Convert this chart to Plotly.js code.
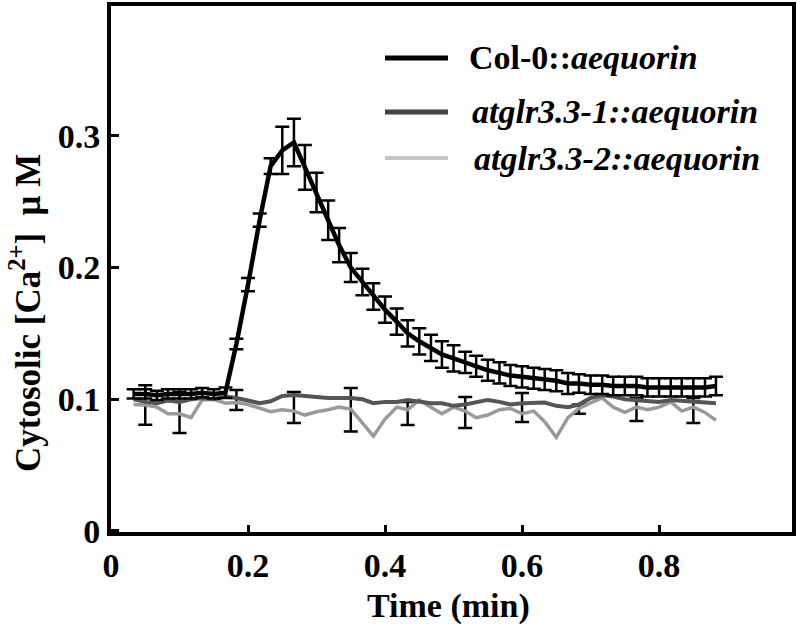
<!DOCTYPE html>
<html>
<head>
<meta charset="utf-8">
<script src="https://cdn.plot.ly/plotly-3.0.1.min.js"></script>
<style>html,body{margin:0;padding:0;background:#fff;}#chart{width:797px;height:635px;}</style>
</head>
<body>
<div id="chart"></div>
<script>
// time (min), sampled every second
const time = [0.033,0.050,0.067,0.083,0.100,0.117,0.133,0.150,0.167,0.183,0.200,0.217,0.233,0.250,0.267,0.283,0.300,0.317,0.333,0.350,0.367,0.383,0.400,0.417,0.433,0.450,0.467,0.483,0.500,0.517,0.533,0.550,0.567,0.583,0.600,0.617,0.633,0.650,0.667,0.683,0.700,0.717,0.733,0.750,0.767,0.783,0.800,0.817,0.833,0.850,0.867,0.883];

const col0 = [0.104,0.104,0.103,0.104,0.104,0.104,0.105,0.104,0.105,0.142,0.187,0.236,0.277,0.289,0.295,0.276,0.257,0.236,0.217,0.200,0.189,0.178,0.168,0.159,0.150,0.144,0.139,0.134,0.131,0.128,0.125,0.122,0.120,0.118,0.117,0.116,0.115,0.114,0.112,0.112,0.111,0.111,0.110,0.110,0.110,0.109,0.109,0.109,0.109,0.109,0.109,0.110];
const col0Err = [0.0035,0.0035,0.0035,0.0035,0.0035,0.0035,0.0035,0.0035,0.004,0.004,0.005,0.005,0.006,0.018,0.018,0.017,0.015,0.015,0.013,0.011,0.010,0.010,0.010,0.010,0.010,0.010,0.010,0.010,0.010,0.008,0.008,0.008,0.008,0.008,0.008,0.008,0.008,0.008,0.008,0.007,0.007,0.007,0.007,0.007,0.007,0.007,0.007,0.007,0.007,0.007,0.007,0.007];

const glr1 = [0.100,0.098,0.097,0.099,0.098,0.100,0.101,0.100,0.102,0.101,0.099,0.097,0.0985,0.1025,0.1033,0.1025,0.102,0.101,0.101,0.101,0.100,0.097,0.098,0.098,0.0995,0.098,0.097,0.097,0.095,0.096,0.098,0.0995,0.098,0.096,0.097,0.097,0.0975,0.095,0.094,0.096,0.101,0.103,0.102,0.100,0.0995,0.099,0.098,0.0995,0.099,0.098,0.0975,0.097];

const glr2 = [0.096,0.0957,0.094,0.089,0.089,0.086,0.0995,0.100,0.097,0.0975,0.096,0.0935,0.0905,0.092,0.091,0.088,0.0905,0.092,0.094,0.0925,0.082,0.072,0.085,0.094,0.092,0.0995,0.094,0.089,0.094,0.091,0.086,0.088,0.092,0.093,0.089,0.091,0.083,0.071,0.086,0.093,0.0972,0.101,0.094,0.090,0.094,0.092,0.094,0.098,0.091,0.094,0.090,0.084];
const glr2ErrPlus = [NaN,0.015,NaN,NaN,0.0165,NaN,NaN,NaN,NaN,0.0095,NaN,NaN,NaN,NaN,0.0145,NaN,NaN,NaN,NaN,0.016,NaN,NaN,NaN,NaN,0.006,NaN,NaN,NaN,NaN,0.0107,NaN,NaN,NaN,NaN,0.0158,NaN,NaN,NaN,NaN,0.003,NaN,NaN,NaN,NaN,0.007,NaN,NaN,NaN,NaN,0.007,NaN,NaN];
const glr2ErrMinus = [NaN,0.015,NaN,NaN,0.0146,NaN,NaN,NaN,NaN,0.0056,NaN,NaN,NaN,NaN,0.009,NaN,NaN,NaN,NaN,0.017,NaN,NaN,NaN,NaN,0.0115,NaN,NaN,NaN,NaN,0.0128,NaN,NaN,NaN,NaN,0.0062,NaN,NaN,NaN,NaN,0.004,NaN,NaN,NaN,NaN,0.0105,NaN,NaN,NaN,NaN,0.012,NaN,NaN];

const seriesNames = ["Col-0::<i>aequorin</i>", "<i>atglr3.3-1::aequorin</i>", "<i>atglr3.3-2::aequorin</i>"];
const seriesColors = ["#000000", "#555555", "#9a9a9a"];
const legendColors = ["#000000", "#444444", "#c4c4c4"];

const xTicks = [0, 0.2, 0.4, 0.6, 0.8];
const xTickText = ["0", "0.2", "0.4", "0.6", "0.8"];
const yTicks = [0, 0.1, 0.2, 0.3];
const yTickText = ["0", "0.1", "0.2", "0.3"];

const F = "Liberation Serif, Times New Roman, serif";

const traces = [
  {x: time, y: glr2, type: 'scatter', mode: 'lines', name: seriesNames[2],
   line: {color: seriesColors[2], width: 3.5},
   error_y: {type: 'data', symmetric: false, array: glr2ErrPlus, arrayminus: glr2ErrMinus,
             color: '#000', thickness: 2.5, width: 7}},
  {x: time, y: glr1, type: 'scatter', mode: 'lines', name: seriesNames[1],
   line: {color: seriesColors[1], width: 4}},
  {x: time, y: col0, type: 'scatter', mode: 'lines', name: seriesNames[0],
   line: {color: seriesColors[0], width: 4.5},
   error_y: {type: 'data', array: col0Err, color: '#000', thickness: 2.5, width: 7}}
];

const px2x = p => (p - 111) / 681;
const px2y = p => (532 - p) / 526;

const legRowY = [58, 112, 158];
const legTextX = [467, 470, 472];
const legWidths = [5, 5, 4];

const shapes = [];
const annotations = [];
for (let i = 0; i < 3; i++) {
  shapes.push({type: 'line', xref: 'paper', yref: 'paper',
    x0: px2x(385), x1: px2x(448), y0: px2y(legRowY[i]), y1: px2y(legRowY[i]),
    line: {color: legendColors[i], width: legWidths[i]}});
  annotations.push({xref: 'paper', yref: 'paper', x: px2x(legTextX[i]), y: px2y(legRowY[i]),
    xanchor: 'left', yanchor: 'middle', showarrow: false, text: seriesNames[i],
    font: {family: F, size: 34, color: '#000', weight: 'bold'}});
}
annotations.push({xref: 'paper', yref: 'paper', x: px2x(25), y: px2y(313),
  xanchor: 'center', yanchor: 'middle', textangle: -90, showarrow: false,
  text: "Cytosolic [Ca<sup>2+</sup>]  μ M",
  font: {family: F, size: 35, color: '#000', weight: 'bold'}});
annotations.push({xref: 'paper', yref: 'paper', x: px2x(448), y: px2y(606),
  xanchor: 'center', yanchor: 'middle', showarrow: false,
  text: "Time (min)",
  font: {family: F, size: 34, color: '#000', weight: 'bold'}});

const layout = {
  width: 797, height: 635,
  margin: {l: 111, r: 5, t: 6, b: 103},
  paper_bgcolor: '#fff', plot_bgcolor: '#fff',
  showlegend: false,
  xaxis: {range: [0, 0.994], tickmode: 'array', tickvals: xTicks, ticktext: xTickText,
    ticks: 'inside', ticklen: 7, tickwidth: 3, tickcolor: '#000',
    showline: true, linewidth: 4, linecolor: '#000', mirror: true,
    showgrid: false, zeroline: false,
    tickfont: {family: F, size: 34, color: '#000', weight: 'bold'}},
  yaxis: {range: [-0.0008, 0.3986], tickmode: 'array', tickvals: yTicks, ticktext: yTickText,
    ticks: 'inside', ticklen: 8, tickwidth: 3, tickcolor: '#000',
    showline: true, linewidth: 4, linecolor: '#000', mirror: true,
    showgrid: false, zeroline: false,
    tickfont: {family: F, size: 34, color: '#000', weight: 'bold'}},
  shapes: shapes,
  annotations: annotations
};

Plotly.newPlot('chart', traces, layout, {displayModeBar: false, staticPlot: true});
</script>
</body>
</html>
